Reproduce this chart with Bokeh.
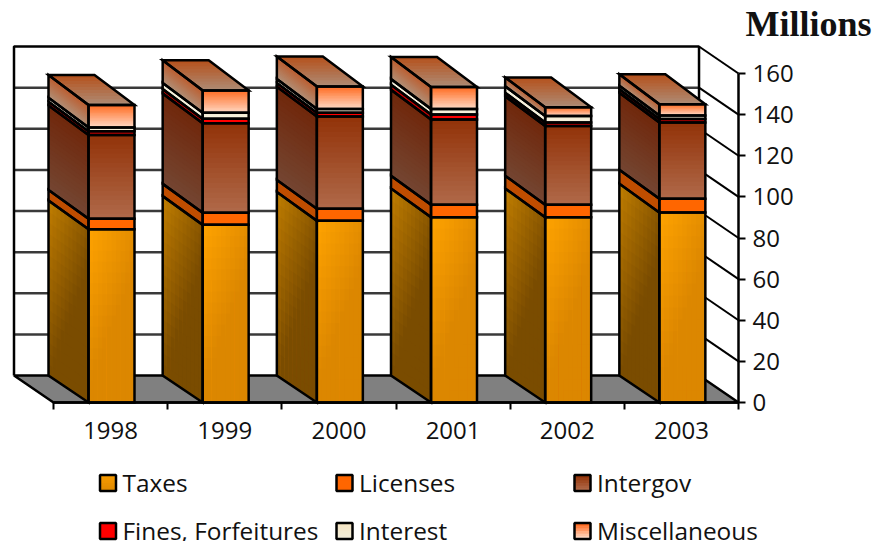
from bokeh.plotting import figure
from bokeh.models import Range1d, FixedTicker
from bokeh.core.properties import value
from bokeh.embed import file_html
from bokeh.resources import INLINE

# ---- values (millions) ----
years = ["1998", "1999", "2000", "2001", "2002", "2003"]
taxes = [84.3, 86.4, 88.4, 90.1, 90.1, 92.4]
licenses = [5.1, 5.9, 5.8, 6.1, 6.1, 6.7]
intergov = [40.7, 43.5, 44.9, 41.4, 38.3, 37.1]
fines = [1.8, 2.2, 1.8, 2.5, 1.7, 1.7]
interest = [1.9, 2.9, 1.9, 2.7, 3.1, 1.7]
miscellaneous = [10.9, 10.9, 10.9, 10.6, 4.3, 5.5]
y_ticks = [0, 20, 40, 60, 80, 100, 120, 140, 160]
legend_names = ["Taxes", "Licenses", "Intergov", "Fines, Forfeitures", "Interest", "Miscellaneous"]

# ---- geometry (page pixels per unit) ----
PX_CAT, PX_VAL = 114.17, 2.056
X0, Y0 = 53.0, 402.0          # page position of category 0 / value 0
W, H = 880, 541
DEPTH_X = 39.5 / PX_CAT
WALL_DY = 27.0 / PX_VAL
BAR_OFF = 35.0 / PX_CAT
BAR_W = 46.0 / PX_CAT


def X(px):
    return (px - X0) / PX_CAT


def Y(py):
    return (Y0 - py) / PX_VAL


def bar_dy(v):
    return (27.0 + 3.0 * v / 150.0) / PX_VAL


p = figure(width=W, height=H, output_backend="svg", toolbar_location=None,
           x_range=Range1d(X(0), X(W)), y_range=Range1d(Y(H), Y(0)),
           y_axis_location="right", min_border=0)
p.outline_line_color = None
p.grid.visible = False
p.background_fill_color = "white"

LW = 2.5

# walls and floor
xb0, xb1 = -DEPTH_X, 6 - DEPTH_X
p.patch([xb0, xb1, 6, 0], [WALL_DY, WALL_DY, 0, 0], fill_color="#808080",
        line_color="black", line_width=LW)
p.segment([xb0] * 7, [v + WALL_DY for v in y_ticks[1:8]], [xb1] * 7, [v + WALL_DY for v in y_ticks[1:8]],
          line_color="#3a3a3a", line_width=LW)
p.segment([xb1] * 8, [v + WALL_DY for v in y_ticks[1:]], [6] * 8, y_ticks[1:],
          line_color="black", line_width=2)
p.line([xb0, xb0, xb1, xb1], [WALL_DY, 160 + WALL_DY, 160 + WALL_DY, WALL_DY],
       line_color="black", line_width=LW)


def rgb(h):
    h = h.lstrip("#")
    return [int(h[i:i + 2], 16) for i in (0, 2, 4)]


def mix(a, b, t):
    t = max(0.0, min(1.0, t))
    ca, cb = rgb(a), rgb(b)
    return "#%02x%02x%02x" % tuple(round(ca[i] + (cb[i] - ca[i]) * t) for i in range(3))


cx, cy, cc = [], [], []
ox, oy = [], []


def add_face(c, colour, nu, nv):
    """c: top-left, top-right, bottom-right, bottom-left; colour(u, v).
    Each band is painted through to the far corner so that no seams show."""
    (ax, ay), (bx, by), (dx, dy), (ex, ey) = c

    def pt(u, v):
        tx, ty = ax + (bx - ax) * u, ay + (by - ay) * u
        lx, ly = ex + (dx - ex) * u, ey + (dy - ey) * u
        return tx + (lx - tx) * v, ty + (ly - ty) * v
    for i in range(nu):
        for j in range(nv):
            q = [pt(i / nu, j / nv), pt(1, j / nv), pt(1, 1), pt(i / nu, 1)]
            cx.append([a for a, _ in q])
            cy.append([b for _, b in q])
            cc.append(colour((i + .5) / nu, (j + .5) / nv))
    ox.append([a for a, _ in c])
    oy.append([b for _, b in c])


front_styles = [
    (lambda u, v: mix("#ffa300", "#dc8700", 0.75 * u + 1.1 * v), 10, 16),
    (lambda u, v: "#ff6600", 1, 1),
    (lambda u, v: mix("#923208", "#b06a4a", v), 1, 18),
    (lambda u, v: "#ff0000", 1, 1),
    (lambda u, v: mix("#efe8cf", "#fff8e4", v), 1, 4),
    (lambda u, v: mix("#ff6a20", "#ffd9c4", v), 1, 14),
]
side_styles = [
    (lambda u, v: mix("#c07d00", "#7a4c00", 0.8 * u + 1.0 * v), 10, 16),
    (lambda u, v: "#bf4d00", 1, 1),
    (lambda u, v: mix("#70270b", "#744632", v), 1, 18),
    (lambda u, v: "#bf0000", 1, 1),
    (lambda u, v: "#f6f0dc", 1, 1),
    (lambda u, v: mix("#bc5c2e", "#b09078", v), 1, 14),
]
series = [taxes, licenses, intergov, fines, interest, miscellaneous]

for i in range(len(years)):
    left, right = i + BAR_OFF, i + BAR_OFF + BAR_W
    back = left - 40.0 / PX_CAT
    base = 0.0
    for s, vals in enumerate(series):
        top = base + vals[i]
        f = front_styles[s]
        g = side_styles[s]
        add_face([(back, top + bar_dy(top)), (left, top), (left, base), (back, base + bar_dy(base))], g[0], g[1], g[2])
        add_face([(left, top), (right, top), (right, base), (left, base)], f[0], f[1], f[2])
        base = top
    add_face([(back, base + bar_dy(base)), (right - 40.0 / PX_CAT, base + bar_dy(base)), (right, base), (left, base)],
             lambda u, v: mix("#b5501a", "#ae8c76", v), 1, 10)

p.patches(cx, cy, fill_color=cc, line_color=None)
p.patches(ox, oy, fill_color=None, line_color="black", line_width=LW, line_join="miter")

# axes, fixed on the front edge of the floor and the right wall
FONT = "Open Sans"
ax = p.xaxis[0]
ax.fixed_location = 0
ax.ticker = FixedTicker(ticks=[i + 0.5 for i in range(6)], minor_ticks=list(range(7)))
ax.major_label_overrides = {i + 0.5: y for i, y in enumerate(years)}
ax.bounds = (0, 6)
ax.major_tick_in = 0
ax.major_tick_out = 0
ax.minor_tick_in = 0
ax.minor_tick_out = 7
ax.minor_tick_line_color = "black"
ax.minor_tick_line_width = 2
ax.axis_line_color = "black"
ax.axis_line_width = LW
ax.major_label_text_font = FONT
ax.major_label_text_font_size = "24px"
ax.major_label_text_color = "#111111"
ax.major_label_standoff = 12

ay = p.yaxis[0]
ay.fixed_location = 6
ay.ticker = FixedTicker(ticks=y_ticks, minor_ticks=[])
ay.bounds = (0, 160)
ay.major_tick_in = 0
ay.major_tick_out = 7
ay.major_tick_line_color = "black"
ay.major_tick_line_width = 2
ay.axis_line_color = "black"
ay.axis_line_width = LW
ay.major_label_text_font = FONT
ay.major_label_text_font_size = "24px"
ay.major_label_text_color = "#111111"
ay.major_label_standoff = 7

p.text([X(745)], [Y(35)], text=["Millions"], text_font=value("Liberation Serif"),
       text_font_style="bold", text_font_size="36px", text_color="#111111",
       text_baseline="alphabetic", y_offset=-12)

# legend
col_x = [99.5, 336, 574]
row_y = [474.5, 522.5]
swatch = [
    ("#f79a00", "#e08b00"), ("#ff6600", "#ff6600"), ("#933409", "#b06a4a"),
    ("#ff0000", "#ff0000"), ("#f5e6c4", "#f2ecd8"), ("#ff6a20", "#ffd9c4"),
]
for k, name in enumerate(legend_names):
    sx, sy = col_x[k % 3], row_y[k // 3]
    n = 6
    size = 16.0
    for j in range(n):
        c = mix(swatch[k][0], swatch[k][1], j / (n - 1))
        p.quad(left=[X(sx)], right=[X(sx + size)], top=[Y(sy + size * j / n)], bottom=[Y(sy + size)],
               fill_color=c, line_color=None)
    p.quad(left=[X(sx)], right=[X(sx + size)], top=[Y(sy)], bottom=[Y(sy + size)],
           fill_color=None, line_color="black", line_width=LW)
    p.text([X(sx + 22.5)], [Y(sy + 15.5) + 3 / PX_VAL], text=[name], text_font=value(FONT),
           text_font_size="24.4px", text_color="#111111", text_baseline="alphabetic",
           text_line_height=1.0, y_offset=-5)

open("out.html", "w").write(file_html(p, INLINE))
